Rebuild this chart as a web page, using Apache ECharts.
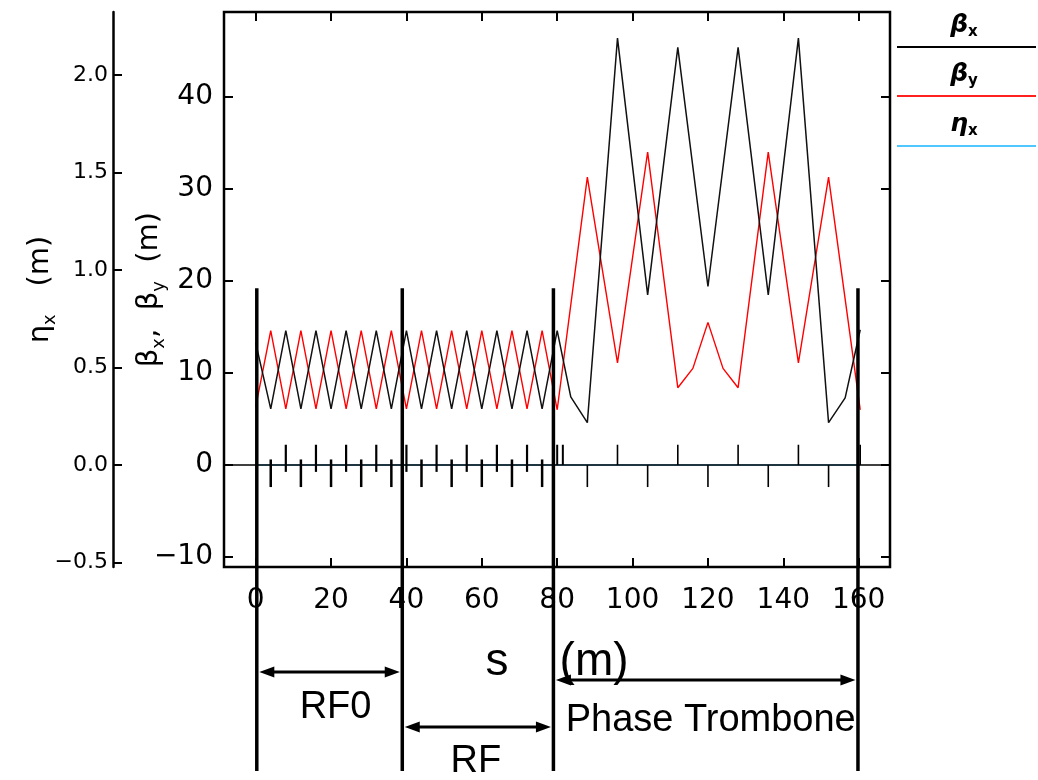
<!DOCTYPE html>
<html><head><meta charset="utf-8">
<script src="https://cdn.jsdelivr.net/npm/echarts@6/dist/echarts.min.js"></script>
<style>html,body{margin:0;padding:0;background:#fff}#c{width:1038px;height:780px}</style>
</head><body><div id="c"></div>
<script>
// ---------- data ----------
const sBetaX = [0, 4, 8, 12, 16, 20, 24, 28, 32, 36, 40, 44, 48, 52, 56, 60, 64, 68, 72, 76, 80, 83.6, 88, 96, 104, 112, 120, 128, 136, 144, 152, 156.4, 160.4];
const betaX  = [13.3, 6.1, 14.6, 6.1, 14.6, 6.1, 14.6, 6.1, 14.6, 6.1, 14.6, 6.1, 14.6, 6.1, 14.6, 6.1, 14.6, 6.1, 14.6, 6.1, 14.6, 7.4, 4.6, 46.4, 18.5, 45.4, 19.4, 45.4, 18.5, 46.4, 4.6, 7.3, 14.7];
const sBetaY = [0, 4, 8, 12, 16, 20, 24, 28, 32, 36, 40, 44, 48, 52, 56, 60, 64, 68, 72, 76, 80, 88, 96, 104, 112, 116, 120, 124, 128, 136, 144, 152, 160.4];
const betaY  = [6.3, 14.6, 6.1, 14.6, 6.1, 14.6, 6.1, 14.6, 6.1, 14.6, 6.1, 14.6, 6.1, 14.6, 6.1, 14.6, 6.1, 14.6, 6.1, 14.6, 6.0, 31.3, 11.1, 34.0, 8.4, 10.5, 15.5, 10.5, 8.4, 34.0, 11.1, 31.3, 6.0];
const sEta   = [0, 160.4];
const etaX   = [0, 0];

// lattice element positions (s, m)
const qdPeriodic = [4, 12, 20, 28, 36, 44, 52, 60, 68, 76];
const qfPeriodic = [8, 16, 24, 32, 40, 48, 56, 64, 72];
const qfMatch    = [80, 81.5];
const qdTrombone = [88, 104, 120, 136, 152];
const qfTrombone = [96, 112, 128, 144, 160.4];

// section boundaries (s, m) and names
const sectionEdges = [0.3, 38.9, 79.0, 159.8];
const sectionNames = ['RF0', 'RF', 'Phase Trombone'];

// tick values
const sTicks    = [0, 20, 40, 60, 80, 100, 120, 140, 160];
const betaTicks = [-10, 0, 10, 20, 30, 40];
const etaTicks  = [-0.5, 0, 0.5, 1.0, 1.5, 2.0];

// ---------- styles / layout ----------
const TICKFONT = 'DejaVu Sans';
const ANNFONT = 'Liberation Sans';
const magnetStyle = {
  qdPeriodic: {top: 0.6, bottom: -2.4, width: 2.5},
  qfPeriodic: {top: 2.2, bottom: -0.75, width: 2.2},
  qfMatch:    {top: 2.2, bottom: 0, width: 2},
  qdTrombone: {top: 0, bottom: -2.4, width: 1.6},
  qfTrombone: {top: 2.2, bottom: 0, width: 1.6}
};
const magnetGroups = {qdPeriodic, qfPeriodic, qfMatch, qdTrombone, qfTrombone};
const magnetData = [];
Object.keys(magnetGroups).forEach(k => magnetGroups[k].forEach(s => magnetData.push({value: [s, 0], kind: k})));

const sectionLineStyle = {topBeta: 19.2, bottomPx: 771, width: 3.5};
const sectionLayout = {
  'RF0':            {arrowY: 672, textY: 708, dx: 6},
  'RF':             {arrowY: 727, textY: 762, dx: -2},
  'Phase Trombone': {arrowY: 680, textY: 721, dx: 5}
};
const legendItems = [
  {sym: 'β', sub: 'x', color: '#000000', textY: 25, lineY: 47},
  {sym: 'β', sub: 'y', color: '#ff2020', textY: 74, lineY: 96},
  {sym: 'η', sub: 'x', color: '#50c8ff', textY: 124, lineY: 146}
];

const zip = (a, b) => a.map((v, i) => [v, b[i]]);
const minusFmt = (v, d) => { const s = d ? Math.abs(v).toFixed(d) : String(Math.abs(v)); return v < 0 ? '\u2212' + s : s; };

const chart = echarts.init(document.getElementById('c'));

const subRich = (size) => ({
  g: {fontFamily: TICKFONT, fontSize: size, color: '#000', lineHeight: size + 8, verticalAlign: 'middle'},
  s: {fontFamily: TICKFONT, fontSize: Math.round(size * 0.62), color: '#000', verticalAlign: 'bottom', lineHeight: Math.round(size * 0.62)}
});

const arrowHead = (tipX, y, dir, len, half) => ({
  type: 'polygon',
  shape: {points: [[tipX, y], [tipX + dir * len, y - half], [tipX + dir * len, y + half]]},
  style: {fill: '#000'}
});

const graphics = [];
legendItems.forEach(it => {
  graphics.push({
    type: 'text',
    style: {
      text: '{g|' + it.sym + '}{s|' + it.sub + '}',
      x: 964, y: it.textY, align: 'center', verticalAlign: 'middle',
      rich: {
        g: {fontFamily: TICKFONT, fontSize: 25, fontWeight: 'bold', fontStyle: 'italic', color: '#000', lineHeight: 30},
        s: {fontFamily: TICKFONT, fontSize: 15, fontWeight: 'bold', color: '#000', verticalAlign: 'bottom', lineHeight: 15}
      }
    }
  });
  graphics.push({type: 'line', shape: {x1: 897, y1: it.lineY, x2: 1036, y2: it.lineY}, style: {stroke: it.color, lineWidth: 2}});
});

const hiddenLine = {show: false, onZero: false};
const tickStyle = {color: '#000', width: 2};

const option = {
  animation: false,
  backgroundColor: '#fff',
  grid: {show: true, left: 224, right: 148, top: 12, bottom: 213, borderColor: '#000', borderWidth: 2.5, outerBoundsMode: 'none'},
  xAxis: [
    {
      type: 'value', min: -8.4, max: 168.3, position: 'bottom',
      axisLine: hiddenLine, splitLine: {show: false},
      axisTick: {inside: true, length: 9, customValues: sTicks, lineStyle: tickStyle},
      axisLabel: {customValues: sTicks, margin: 20, fontFamily: TICKFONT, fontSize: 28, color: '#000'},
      name: 's    (m)', nameLocation: 'middle', nameGap: 72, nameMoveOverlap: false,
      nameTextStyle: {fontFamily: ANNFONT, fontSize: 46, color: '#000'}
    },
    {
      type: 'value', min: -8.4, max: 168.3, position: 'top',
      axisLine: hiddenLine, splitLine: {show: false},
      axisTick: {inside: true, length: 9, customValues: sTicks, lineStyle: tickStyle},
      axisLabel: {show: false}
    }
  ],
  yAxis: [
    {
      type: 'value', min: -11.09, max: 49.24, position: 'left',
      axisLine: hiddenLine, splitLine: {show: false},
      axisTick: {inside: true, length: 9, customValues: betaTicks, lineStyle: tickStyle},
      axisLabel: {customValues: betaTicks, margin: 11, fontFamily: TICKFONT, fontSize: 28, color: '#000', formatter: v => minusFmt(v, 0)},
      name: '{g|β}{s|x}{g|,  β}{s|y}{g|  (m)}', nameLocation: 'middle', nameGap: 56, nameRotate: 90, nameMoveOverlap: false,
      nameTextStyle: {rich: subRich(29)}
    },
    {
      type: 'value', min: -11.09, max: 49.24, position: 'right',
      axisLine: hiddenLine, splitLine: {show: false},
      axisTick: {inside: true, length: 9, customValues: betaTicks, lineStyle: tickStyle},
      axisLabel: {show: false}
    },
    {
      type: 'value', min: -0.523, max: 2.323, position: 'left', offset: 111,
      axisLine: {show: true, onZero: false, lineStyle: {color: '#000', width: 2.5}}, splitLine: {show: false},
      axisTick: {inside: true, length: 9, customValues: etaTicks, lineStyle: tickStyle},
      axisLabel: {customValues: etaTicks, margin: 5, fontFamily: TICKFONT, fontSize: 22, color: '#000', formatter: v => minusFmt(v, 1)},
      name: '{g|η}{s|x}{g|   (m)}', nameLocation: 'middle', nameGap: 54, nameRotate: 90, nameMoveOverlap: false,
      nameTextStyle: {rich: subRich(29)}
    }
  ],
  series: [
    {
      name: 'ηx', type: 'line', xAxisIndex: 0, yAxisIndex: 2, data: zip(sEta, etaX),
      symbol: 'none', z: 1, lineStyle: {color: '#50c8ff', width: 1.4}
    },
    {
      name: 'βx', type: 'line', xAxisIndex: 0, yAxisIndex: 0, data: zip(sBetaX, betaX),
      symbol: 'none', z: 4, lineStyle: {color: '#111', width: 1.5},
      markLine: {silent: true, symbol: 'none', label: {show: false}, lineStyle: {color: '#000', width: 1.6, type: 'solid'}, data: [{yAxis: 0}]}
    },
    {
      name: 'βy', type: 'line', xAxisIndex: 0, yAxisIndex: 0, data: zip(sBetaY, betaY),
      symbol: 'none', z: 3, lineStyle: {color: '#ff0000', width: 1.4}
    },
    {
      name: 'lattice', type: 'custom', xAxisIndex: 0, yAxisIndex: 0, z: 5, clip: false,
      data: magnetData,
      renderItem: (params, api) => {
        const st = magnetStyle[magnetData[params.dataIndex].kind];
        const p0 = api.coord([api.value(0), st.top]);
        const p1 = api.coord([api.value(0), st.bottom]);
        return {type: 'line', shape: {x1: p0[0], y1: p0[1], x2: p1[0], y2: p1[1]}, style: {stroke: '#000', lineWidth: st.width}};
      }
    },
    {
      name: 'sections', type: 'custom', xAxisIndex: 0, yAxisIndex: 0, z: 6, clip: false,
      data: sectionEdges.map(s => [s, 0]),
      renderItem: (params, api) => {
        const p = api.coord([api.value(0), sectionLineStyle.topBeta]);
        return {type: 'line', shape: {x1: p[0], y1: p[1], x2: p[0], y2: sectionLineStyle.bottomPx}, style: {stroke: '#000', lineWidth: sectionLineStyle.width}};
      }
    },
    {
      name: 'arrows', type: 'custom', xAxisIndex: 0, yAxisIndex: 0, z: 6, clip: false,
      data: sectionNames.map((n, i) => [sectionEdges[i], sectionEdges[i + 1]]),
      renderItem: (params, api) => {
        const name = sectionNames[params.dataIndex];
        const lay = sectionLayout[name];
        const xa = api.coord([api.value(0), 0])[0] + 2.5;
        const xb = api.coord([api.value(1), 0])[0] - 2.5;
        const y = lay.arrowY, len = 15, half = 5.5;
        return {
          type: 'group',
          children: [
            {type: 'line', shape: {x1: xa + len - 2, y1: y, x2: xb - len + 2, y2: y}, style: {stroke: '#000', lineWidth: 3}},
            arrowHead(xa, y, 1, len, half),
            arrowHead(xb, y, -1, len, half),
            {type: 'text', style: {text: name, x: (xa + xb) / 2 + lay.dx, y: lay.textY, align: 'center', verticalAlign: 'middle', fontFamily: ANNFONT, fontSize: 38, fill: '#000'}}
          ]
        };
      }
    }
  ],
  graphic: graphics
};
chart.setOption(option);
</script>
</body></html>
